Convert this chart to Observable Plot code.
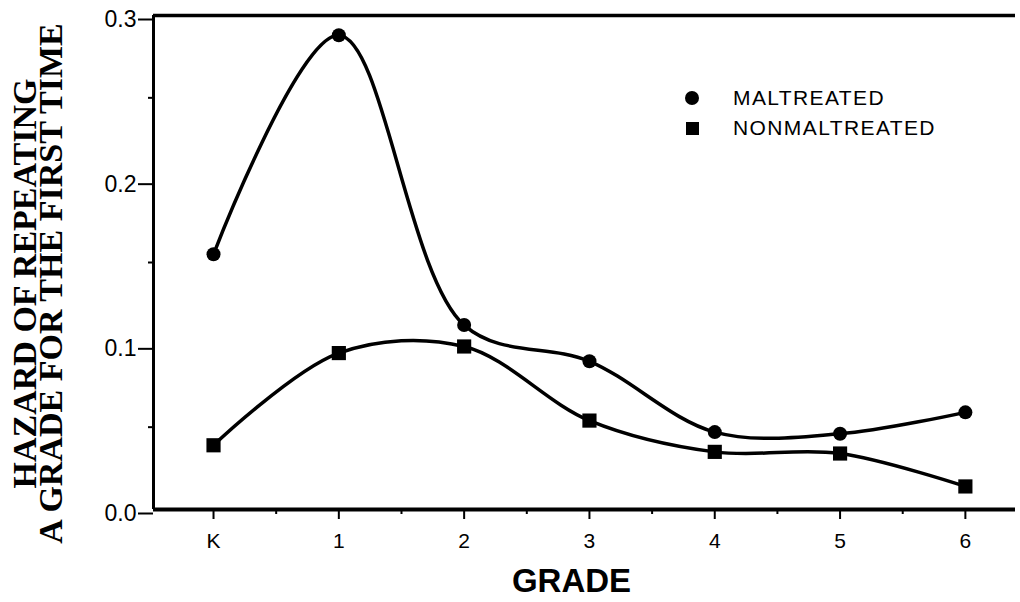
<!DOCTYPE html>
<html>
<head>
<meta charset="utf-8">
<script src="https://cdn.jsdelivr.net/npm/d3@7"></script>
<script src="https://cdn.jsdelivr.net/npm/@observablehq/plot@0.6"></script>
<style>
  html, body { margin: 0; padding: 0; background: #fff; }
  #wrap { position: relative; width: 1020px; height: 602px; }
  #legend { position: absolute; left: 680px; top: 83px; font-family: "Liberation Sans", Arial, sans-serif; font-size: 21px; letter-spacing: 1.4px; color: #000; }
  #legend .row { height: 30px; display: flex; align-items: center; }
  #legend .sym { width: 24px; height: 30px; display: flex; align-items: center; justify-content: center; margin-right: 29px; }
  #legend .circ { width: 14px; height: 14px; border-radius: 50%; background: #000; }
  #legend .sq { width: 13px; height: 13px; background: #000; }
</style>
</head>
<body>
<div id="wrap"></div>
<script>
// ---- data ----
const grades = ["K", "1", "2", "3", "4", "5", "6"];
const maltreated = [0.155, 0.288, 0.112, 0.090, 0.047, 0.046, 0.059];
const nonmaltreated = [0.039, 0.095, 0.099, 0.054, 0.035, 0.034, 0.014];
const seriesNames = ["MALTREATED", "NONMALTREATED"];
const yTicks = [0, 0.1, 0.2, 0.3];
const yMinorTicks = [0.05, 0.15, 0.25];
const xMinorTicks = [0.5, 1.5, 2.5, 3.5, 4.5, 5.5];
const yTitle = ["HAZARD OF REPEATING", "A GRADE FOR THE FIRST TIME"];
const xTitle = "GRADE";

const xMin = -0.479, xMax = 6.4;

const rows = [];
grades.forEach((g, i) => {
  rows.push({x: i, value: maltreated[i], series: seriesNames[0]});
  rows.push({x: i, value: nonmaltreated[i], series: seriesNames[1]});
});

const sans = '"Liberation Sans", Arial, Helvetica, sans-serif';
const serif = '"Liberation Serif", "Times New Roman", serif';

const chart = Plot.plot({
  width: 1020,
  height: 602,
  marginLeft: 153,
  marginRight: 5,
  marginTop: 15,
  marginBottom: 93,
  x: {domain: [xMin, xMax]},
  y: {domain: [0, 0.3]},
  style: {background: "white", color: "black", fontFamily: sans},
  marks: [
    Plot.axisX({ticks: xMinorTicks, tickSize: 5, strokeWidth: 2, tickFormat: () => "", label: null}),
    Plot.axisX({ticks: d3.range(grades.length), tickSize: 10, strokeWidth: 2, tickPadding: 14,
      tickFormat: i => grades[i], fontSize: 21, label: null}),
    Plot.axisY({ticks: yMinorTicks, tickSize: 5, strokeWidth: 2, tickFormat: () => "", label: null}),
    Plot.axisY({ticks: yTicks, tickSize: 15, strokeWidth: 2, tickPadding: 2, dy: 4,
      tickFormat: d3.format(".1f"), fontSize: 23, label: null}),
    Plot.ruleY([0], {strokeWidth: 4}),
    Plot.ruleY([0.3], {strokeWidth: 3.5}),
    Plot.ruleX([xMin], {strokeWidth: 3}),
    Plot.line(rows, {x: "x", y: "value", z: "series", curve: "catmull-rom", stroke: "black", strokeWidth: 3.5}),
    Plot.dot(rows.filter(d => d.series === seriesNames[0]), {x: "x", y: "value", r: 7, fill: "black", stroke: "none"}),
    Plot.dot(rows.filter(d => d.series === seriesNames[1]), {x: "x", y: "value", r: 8, symbol: "square", fill: "black", stroke: "none"}),
    Plot.text([yTitle[0]], {text: d => d, frameAnchor: "left", textAnchor: "middle", rotate: -90, dx: -128, dy: 21,
      fontFamily: serif, fontWeight: "bold", fontSize: 34, fill: "black"}),
    Plot.text([yTitle[1]], {text: d => d, frameAnchor: "left", textAnchor: "middle", rotate: -90, dx: -102, dy: 21,
      fontFamily: serif, fontWeight: "bold", fontSize: 34, fill: "black"}),
    Plot.text([xTitle], {text: d => d, frameAnchor: "bottom", dx: -13, dy: 82,
      fontFamily: sans, fontWeight: "bold", fontSize: 33, fill: "black"})
  ]
});

const wrap = document.getElementById("wrap");
wrap.appendChild(chart);

const legend = document.createElement("div");
legend.id = "legend";
legend.innerHTML = seriesNames.map((n, i) =>
  `<div class="row"><span class="sym"><span class="${i === 0 ? "circ" : "sq"}"></span></span><span>${n}</span></div>`
).join("");
wrap.appendChild(legend);
</script>
</body>
</html>
